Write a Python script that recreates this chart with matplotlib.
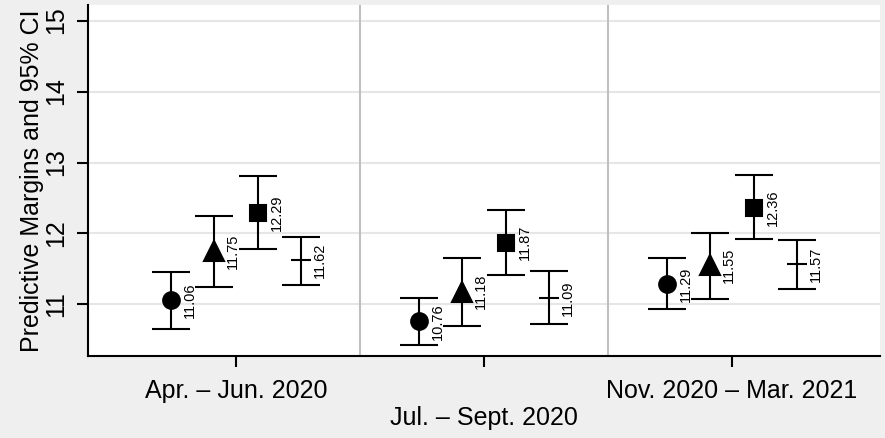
import matplotlib
matplotlib.use("Agg")
import matplotlib.pyplot as plt
import numpy as np

plt.rcParams['font.family'] = ['Liberation Sans', 'DejaVu Sans']

# Survey waves on the x axis
periods = ["Apr. – Jun. 2020", "Jul. – Sept. 2020", "Nov. 2020 – Mar. 2021"]

# Predictive margins per group (point estimate, lower and upper 95% CI)
circle_mean = [11.06, 10.76, 11.29]
circle_lo = [10.65, 10.43, 10.93]
circle_hi = [11.46, 11.09, 11.65]

triangle_mean = [11.75, 11.18, 11.55]
triangle_lo = [11.25, 10.70, 11.08]
triangle_hi = [12.25, 11.66, 12.01]

square_mean = [12.29, 11.87, 12.36]
square_lo = [11.78, 11.42, 11.92]
square_hi = [12.81, 12.33, 12.83]

dash_mean = [11.62, 11.09, 11.57]
dash_lo = [11.28, 10.72, 11.22]
dash_hi = [11.95, 11.47, 11.91]

yticks = [11, 12, 13, 14, 15]

series = [
    (circle_mean, circle_lo, circle_hi, 'o', 12),
    (triangle_mean, triangle_lo, triangle_hi, '^', 15),
    (square_mean, square_lo, square_hi, 's', 12),
    (dash_mean, dash_lo, dash_hi, '_', 15),
]
offsets = [-0.2625, -0.0875, 0.0875, 0.2625]

bg = '#efefef'
fig = plt.figure(figsize=(8.85, 4.38), dpi=100, facecolor=bg)
ax = fig.add_axes([88 / 885, (438 - 355.5) / 438, (880 - 88) / 885, (355.5 - 5) / 438])
ax.set_facecolor('white')

base = np.arange(1, len(periods) + 1)

for (mean, lo, hi, mk, ms), off in zip(series, offsets):
    mean = np.asarray(mean)
    x = base + off
    yerr = [mean - np.asarray(lo), np.asarray(hi) - mean]
    ax.errorbar(x, mean, yerr=yerr, fmt=mk, color='black', ms=ms,
                mew=1.5, elinewidth=1.5, capsize=13.7, capthick=1.5, zorder=3)
    for xi, yi in zip(x, mean):
        ax.annotate(f"{yi:.2f}", (xi, yi), xytext=(8.5, 0), textcoords='offset points',
                    rotation=90, ha='left', va='center', fontsize=10.5, zorder=4)

# horizontal grid and period separators
for y in yticks:
    ax.axhline(y, color='#e6e6e6', lw=1.5, zorder=0)
for xs in base[:-1] + 0.5:
    ax.axvline(xs, color='#c0c0c0', lw=1.5, zorder=0)

ax.set_xlim(0.403, 3.597)
ax.set_ylim(10.28, 15.22)

ax.set_yticks(yticks)
ax.set_yticklabels([str(v) for v in yticks])
for lab in ax.get_yticklabels():
    lab.set_rotation(90)
    lab.set_va('center')
    lab.set_ha('right')

# outer periods on major ticks, middle one staggered lower on a minor tick
ax.set_xticks([base[0], base[2]])
ax.set_xticklabels([periods[0], periods[2]])
ax.set_xticks([base[1]], minor=True)
ax.set_xticklabels([periods[1]], minor=True)

ax.tick_params(axis='both', which='both', direction='out', length=8, width=1.5,
               color='black', labelsize=18)
ax.tick_params(axis='x', which='major', pad=9)
ax.tick_params(axis='x', which='minor', pad=28)
ax.tick_params(axis='y', pad=6)

ax.set_ylabel("Predictive Margins and 95% CI", fontsize=18)
ax.yaxis.set_label_coords(-0.055, 0.5)

for side in ['top', 'right']:
    ax.spines[side].set_visible(False)
for side in ['left', 'bottom']:
    ax.spines[side].set_linewidth(1.5)
    ax.spines[side].set_color('black')

fig.savefig('out.png', dpi=100, facecolor=bg)
